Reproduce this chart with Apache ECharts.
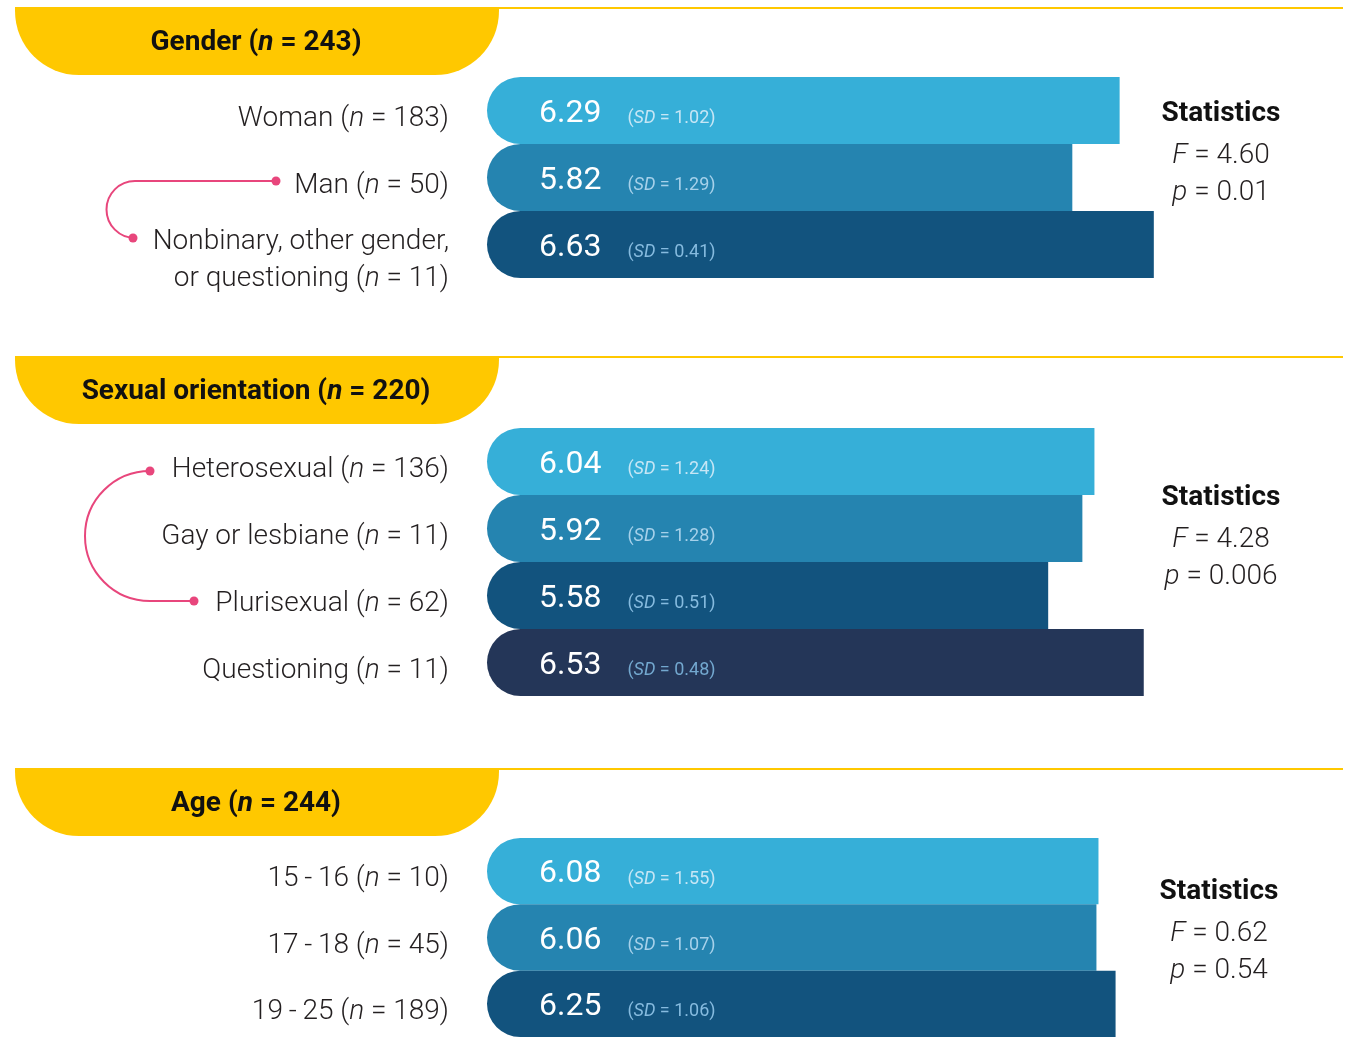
<!DOCTYPE html>
<html>
<head>
<meta charset="utf-8">
<script src="https://cdn.jsdelivr.net/npm/echarts@6/dist/echarts.min.js"></script>
<style>
html, body { margin: 0; padding: 0; background: #fff; }
#main { width: 1351px; height: 1037px; }
</style>
</head>
<body>
<div id="main"></div>
<script>
// data
const genderCats = ['Woman', 'Man', 'Nonbinary, other gender,\nor questioning'];
const genderN = [183, 50, 11];
const genderMean = [6.29, 5.82, 6.63];
const genderSD = [1.02, 1.29, 0.41];
const genderStats = ['4.60', '0.01'];

const orientCats = ['Heterosexual', 'Gay or lesbiane', 'Plurisexual', 'Questioning'];
const orientN = [136, 11, 62, 11];
const orientMean = [6.04, 5.92, 5.58, 6.53];
const orientSD = [1.24, 1.28, 0.51, 0.48];
const orientStats = ['4.28', '0.006'];

const ageCats = ['15\u2009-\u200916', '17\u2009-\u200918', '19\u2009-\u200925'];
const ageN = [10, 45, 189];
const ageMean = [6.08, 6.06, 6.25];
const ageSD = [1.55, 1.07, 1.06];
const ageStats = ['0.62', '0.54'];

const headers = ['Gender', 'Sexual orientation', 'Age'];
const headerN = [243, 220, 244];

const barColors = ['#36AFD8', '#2584B0', '#12537E', '#243658'];
const sdColors = ['#C6E6F5', '#A6D1EA', '#86BBDF', '#73A8CF'];
const YELLOW = '#FFC800';
const PINK = '#E8467C';
const TEXT = '#231F20';
const FONT = 'Roboto, "Noto Sans", sans-serif';

const groups = [
    { cats: genderCats, n: genderN, mean: genderMean, sd: genderSD, stats: genderStats, top: 77, head: 7, statY: 114 },
    { cats: orientCats, n: orientN, mean: orientMean, sd: orientSD, stats: orientStats, top: 428, head: 356, statY: 498 },
    { cats: ageCats, n: ageN, mean: ageMean, sd: ageSD, stats: ageStats, top: 838, head: 768, statY: 892 }
];
const BAND = 67;

// rich styles for the value labels inside the bars, one SD colour per bar shade
var valueRich = { v: { fontFamily: FONT, fontSize: 32, color: '#fff', padding: [0, 26, 0, 0] } };
sdColors.forEach(function (c, i) {
    valueRich['s' + i] = { fontFamily: FONT, fontSize: 18, color: c, verticalAlign: 'bottom', padding: [0, 0, 2, 0] };
    valueRich['si' + i] = { fontFamily: FONT, fontSize: 18, fontStyle: 'italic', color: c, verticalAlign: 'bottom', padding: [0, 0, 2, 0] };
});

var chart = echarts.init(document.getElementById('main'));

var grid = [], xAxis = [], yAxis = [], series = [], graphic = [];

groups.forEach(function (g, gi) {
    grid.push({ left: 487, top: g.top, width: 704, height: g.cats.length * BAND });
    xAxis.push({ gridIndex: gi, type: 'value', min: 0, max: 7, show: false });
    yAxis.push({
        gridIndex: gi,
        type: 'category',
        inverse: true,
        data: g.cats.map(function (c) {
            // two-line label sits a bit lower than the bar centre
            return c.indexOf('\n') >= 0 ? { value: c, textStyle: { padding: [31, 0, 0, 0] } } : c;
        }),
        axisLine: { show: false },
        axisTick: { show: false },
        splitLine: { show: false },
        axisLabel: {
            interval: 0,
            hideOverlap: false,
            margin: 38,
            lineHeight: 37,
            fontSize: 28,
            padding: [16, 0, 0, 0],
            formatter: function (value, idx) {
                var lines = value.split('\n');
                var out = [];
                for (var k = 0; k < lines.length - 1; k++) {
                    out.push('{t|' + lines[k] + '}');
                }
                var last = lines[lines.length - 1];
                out.push('{t|' + last + ' (}{i|n}{t| = ' + g.n[idx] + ')}');
                return out.join('\n');
            },
            rich: {
                t: { fontFamily: FONT, fontSize: 28, fontWeight: 300, color: TEXT, lineHeight: 37 },
                i: { fontFamily: FONT, fontSize: 28, fontWeight: 300, fontStyle: 'italic', color: TEXT, lineHeight: 37 }
            }
        }
    });
    series.push({
        type: 'bar',
        xAxisIndex: gi,
        yAxisIndex: gi,
        barCategoryGap: '0%',
        silent: true,
        data: g.mean.map(function (v, i) {
            return { value: v, itemStyle: { color: barColors[i], borderRadius: [34, 0, 0, 34] } };
        }),
        label: {
            show: true,
            position: 'insideLeft',
            distance: 52,
            offset: [0, 3],
            formatter: function (p) {
                var k = p.dataIndex;
                return '{v|' + p.value.toFixed(2) + '}{s' + k + '|(}{si' + k + '|SD}{s' + k + '| = ' + g.sd[k].toFixed(2) + ')}';
            },
            rich: valueRich
        }
    });

    // header tab + rule line
    graphic.push({
        type: 'line', silent: true,
        shape: { x1: 15, y1: g.head + 1, x2: 1343, y2: g.head + 1 },
        style: { stroke: YELLOW, lineWidth: 2 }
    });
    graphic.push({
        type: 'rect', silent: true,
        shape: { x: 15, y: g.head, width: 484, height: 68, r: [0, 0, 64, 64] },
        style: { fill: YELLOW }
    });
    graphic.push({
        type: 'text', silent: true,
        x: 256, y: g.head + 36,
        style: {
            text: '{b|' + headers[gi] + ' (}{bi|n}{b| = ' + headerN[gi] + ')}',
            align: 'center', verticalAlign: 'middle',
            fill: '#111',
            rich: {
                b: { fontFamily: FONT, fontSize: 28, fontWeight: 'bold' },
                bi: { fontFamily: FONT, fontSize: 28, fontWeight: 'bold', fontStyle: 'italic' }
            }
        }
    });

    // statistics block
    var sx = gi === 2 ? 1219 : 1221;
    graphic.push({
        type: 'text', silent: true,
        x: sx, y: g.statY,
        style: {
            text: 'Statistics', align: 'center', verticalAlign: 'middle',
            fill: '#111', fontFamily: FONT, fontSize: 28, fontWeight: 'bold'
        }
    });
    var statRich = {
        r: { fontFamily: FONT, fontSize: 28, fontWeight: 300 },
        ri: { fontFamily: FONT, fontSize: 28, fontWeight: 300, fontStyle: 'italic' }
    };
    graphic.push({
        type: 'text', silent: true,
        x: sx, y: g.statY + 42,
        style: {
            text: '{ri|F}{r| = ' + g.stats[0] + '}', align: 'center', verticalAlign: 'middle',
            fill: TEXT, rich: statRich
        }
    });
    graphic.push({
        type: 'text', silent: true,
        x: sx, y: g.statY + 79,
        style: {
            text: '{ri|p}{r| = ' + g.stats[1] + '}', align: 'center', verticalAlign: 'middle',
            fill: TEXT, rich: statRich
        }
    });
});

// connectors between compared groups
var linkStyle = { stroke: PINK, lineWidth: 2, fill: null };
graphic.push({ type: 'line', silent: true, shape: { x1: 276, y1: 181, x2: 135, y2: 181 }, style: linkStyle });
graphic.push({
    type: 'arc', silent: true,
    shape: { cx: 135, cy: 209.5, r: 28.5, startAngle: -Math.PI / 2, endAngle: Math.PI / 2, clockwise: false },
    style: linkStyle
});
graphic.push({ type: 'circle', silent: true, shape: { cx: 276, cy: 181, r: 4.5 }, style: { fill: PINK } });
graphic.push({ type: 'circle', silent: true, shape: { cx: 133, cy: 238, r: 4.5 }, style: { fill: PINK } });

graphic.push({
    type: 'arc', silent: true,
    shape: { cx: 150, cy: 536, r: 65, startAngle: -Math.PI / 2, endAngle: Math.PI / 2, clockwise: false },
    style: linkStyle
});
graphic.push({ type: 'line', silent: true, shape: { x1: 150, y1: 601, x2: 194, y2: 601 }, style: linkStyle });
graphic.push({ type: 'circle', silent: true, shape: { cx: 150, cy: 471, r: 4.5 }, style: { fill: PINK } });
graphic.push({ type: 'circle', silent: true, shape: { cx: 194, cy: 601, r: 4.5 }, style: { fill: PINK } });

chart.setOption({
    animation: false,
    backgroundColor: '#fff',
    grid: grid,
    xAxis: xAxis,
    yAxis: yAxis,
    series: series,
    graphic: graphic
});
</script>
</body>
</html>
